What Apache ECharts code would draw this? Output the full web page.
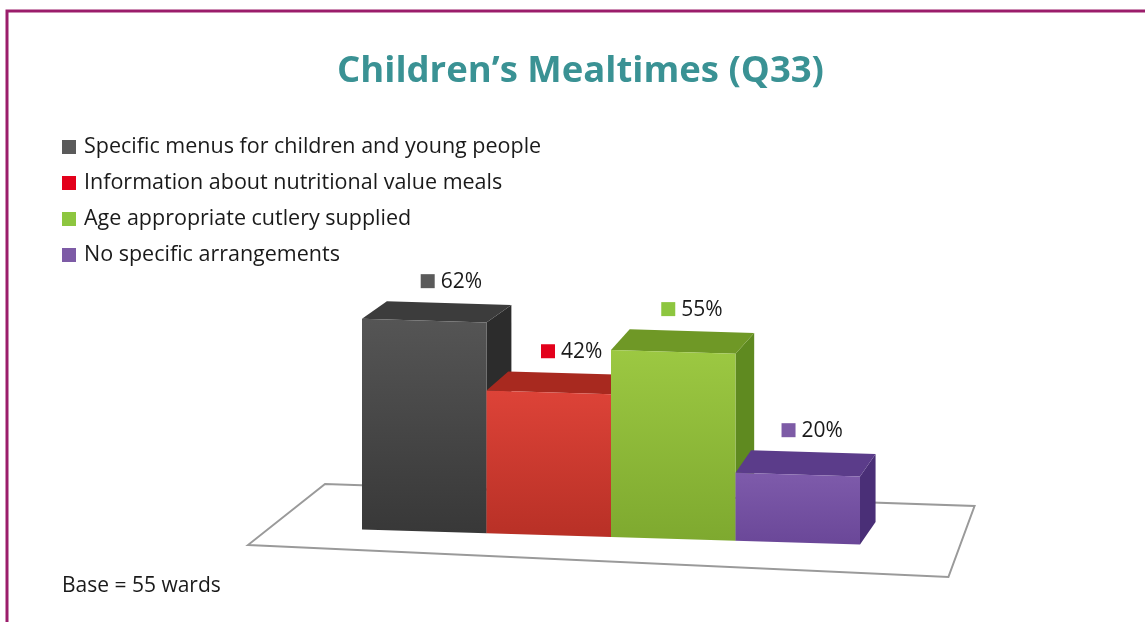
<!DOCTYPE html>
<html>
<head>
<meta charset="utf-8">
<script src="https://cdn.jsdelivr.net/npm/echarts@6/dist/echarts.min.js"></script>
<style>
  html, body { margin: 0; padding: 0; background: #fff; }
  #main { width: 1145px; height: 622px; }
</style>
</head>
<body>
<div id="main"></div>
<script>
var categories = [
    'Specific menus for children and young people',
    'Information about nutritional value meals',
    'Age appropriate cutlery supplied',
    'No specific arrangements'
];
var values = [62, 42, 55, 20];

// legend / label colour, then front (top, bottom), top and side shades of each box
var keyColors = ['#5a5a5a', '#e3001b', '#8dc63f', '#7d5ba6'];
var faceColors = [
    ['#555555', '#383838', '#3c3c3c', '#2c2c2c'],
    ['#dd4338', '#b83026', '#a8291f', '#8e1f17'],
    ['#9cc842', '#7ea92f', '#6f9826', '#5f8a20'],
    ['#7e5bab', '#6a4798', '#5b3c8a', '#4a2f77']
];

var myChart = echarts.init(document.getElementById('main'));

var SKEW = 0.03; // floor tilts slightly towards the viewer on the right

function boxRenderer(k) {
    return function (params, api) {
        var idx = api.value(0);
        var val = api.value(1);
        var top = api.coord([idx, val]);
        var base = api.coord([idx, 0]);
        var w = api.size([1, 0])[0];
        var cs = params.coordSys;
        var mid = cs.x + cs.width / 2;
        var t = idx / 3;
        var dx = w * (0.2 - 0.075 * t);
        var dy = -w * (0.14 + 0.04 * t);
        var x0 = top[0] - w / 2;
        var x1 = top[0] + w / 2;
        function sy(x, y) { return y + SKEW * (x - mid); }
        var ft0 = [x0, sy(x0, top[1])], ft1 = [x1, sy(x1, top[1])];
        var fb0 = [x0, sy(x0, base[1])], fb1 = [x1, sy(x1, base[1])];
        var c = faceColors[k];
        var backTop = (ft0[1] + ft1[1]) / 2 + dy;
        var lx = top[0] + dx / 2 - 20 + 8 * (1 - t) - 4;
        return {
            type: 'group',
            children: [{
                type: 'polygon',
                shape: { points: [ft1, [ft1[0] + dx, ft1[1] + dy], [fb1[0] + dx, fb1[1] + dy], fb1] },
                style: { fill: c[3] }
            }, {
                type: 'polygon',
                shape: { points: [ft0, [ft0[0] + dx, ft0[1] + dy], [ft1[0] + dx, ft1[1] + dy], ft1] },
                style: { fill: c[2] }
            }, {
                type: 'polygon',
                shape: { points: [ft0, ft1, fb1, fb0] },
                style: {
                    fill: new echarts.graphic.LinearGradient(0, 0, 0, 1, [
                        { offset: 0, color: c[0] },
                        { offset: 1, color: c[1] }
                    ])
                }
            }, {
                type: 'rect',
                shape: { x: lx, y: backTop - 29, width: 14, height: 14 },
                style: { fill: keyColors[k] }
            }, {
                type: 'text',
                style: {
                    x: lx + 20, y: backTop - 21,
                    text: val + '%',
                    fill: '#1a1a1a',
                    font: '21px "Open Sans"',
                    verticalAlign: 'middle'
                }
            }]
        };
    };
}

// floor plane under the boxes, laid out from the category band
function floorRenderer(params, api) {
    var p = api.coord([0, 0]);
    var w = api.size([1, 0])[0];
    var left = p[0] - w / 2;
    var y = params.coordSys.y + params.coordSys.height;
    return {
        type: 'polygon',
        silent: true,
        shape: { points: [
            [left - 0.916 * w, y + 8],
            [left + 4.71 * w, y + 40],
            [left + 4.92 * w, y - 31],
            [left - 0.297 * w, y - 53]
        ] },
        style: { fill: 'none', stroke: '#9a9a9a', lineWidth: 2 }
    };
}

var series = [{
    type: 'custom',
    name: 'floor',
    renderItem: floorRenderer,
    data: [[0, 0]],
    z: 1
}];
categories.forEach(function (name, i) {
    series.push({
        type: 'custom',
        name: name,
        itemStyle: { color: keyColors[i] },
        renderItem: boxRenderer(i),
        data: [[i, values[i]]],
        z: 2 + i
    });
});

var option = {
    animation: false,
    title: {
        text: 'Children\u2019s Mealtimes (Q33)',
        left: 332,
        top: 48,
        textStyle: { color: '#3a9294', fontSize: 36.5, fontWeight: 'bold', fontFamily: 'Open Sans' }
    },
    legend: {
        orient: 'vertical',
        left: 57,
        top: 131,
        icon: 'rect',
        itemWidth: 14,
        itemHeight: 14,
        itemGap: 14,
        data: categories,
        formatter: function (name) { return '{t|' + name + '}'; },
        textStyle: {
            color: '#1a1a1a',
            rich: { t: { fontSize: 21.5, lineHeight: 22, color: '#1a1a1a', fontFamily: 'Open Sans', padding: [0, 0, 0, 3] } }
        }
    },
    grid: { left: 362, right: 285, top: 197, bottom: 85 },
    xAxis: { type: 'category', data: categories, show: false },
    yAxis: { type: 'value', min: 0, max: 100, show: false },
    graphic: [{
        type: 'rect',
        silent: true,
        shape: { x: 7, y: 11, width: 1160, height: 640 },
        style: { fill: 'none', stroke: '#9b1d6b', lineWidth: 3 },
        z: 0
    }, {
        type: 'text',
        left: 62,
        top: 576,
        style: { text: 'Base = 55 wards', fill: '#1a1a1a', font: '21px "Open Sans"' }
    }],
    series: series
};

myChart.setOption(option);
</script>
</body>
</html>
